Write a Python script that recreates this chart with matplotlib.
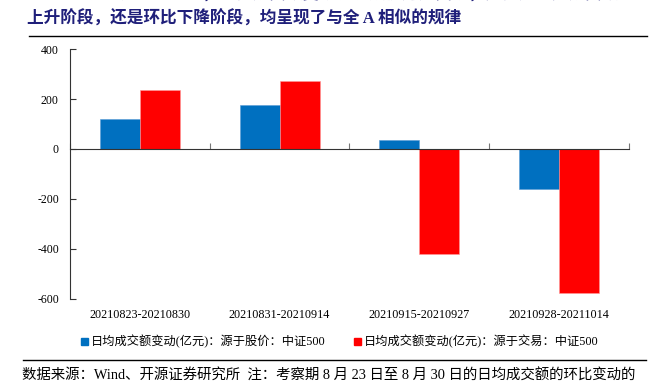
import matplotlib.pyplot as plt
import numpy as np
from matplotlib.patches import Patch
from matplotlib.lines import Line2D

periods = ["20210823-20210830", "20210831-20210914", "20210915-20210927", "20210928-20211014"]
price_driven = [120, 175, 37, -159]
trade_driven = [235, 271, -419, -576]
legend_labels = ["日均成交额变动(亿元)：源于股价：中证500", "日均成交额变动(亿元)：源于交易：中证500"]

fonts = ["Liberation Serif", "Noto Sans CJK SC", "DejaVu Sans"]
plt.rcParams["font.family"] = fonts
plt.rcParams["axes.unicode_minus"] = False

fig = plt.figure(figsize=(6.69, 3.88), dpi=100)
ax = fig.add_axes([0.1046, 0.2294, 0.8355, 0.6443])

x = np.arange(len(periods))
w = 0.2857
ax.bar(x - w / 2, price_driven, w, color="#0070C0", edgecolor="#5B9BD5", linewidth=0.4)
ax.bar(x + w / 2, trade_driven, w, color="#FF0000", edgecolor="#FF9999", linewidth=0.4)

ax.set_xlim(-0.5, len(periods) - 0.5)
ax.set_ylim(-600, 400)
ax.set_yticks(range(-600, 401, 200))
ax.tick_params(axis="y", direction="in", length=4, labelsize=8.5, pad=8, color="#333333")
for s in ["top", "right"]:
    ax.spines[s].set_visible(False)
ax.spines["left"].set_color("#333333")
ax.spines["bottom"].set_position(("data", 0))
ax.spines["bottom"].set_color("#333333")
ax.set_xticks(np.arange(-0.5, len(periods), 1.0))
ax.set_xticklabels([])
ax.tick_params(axis="x", direction="in", length=4, color="#777777")
for i, p in enumerate(periods):
    ax.text(i, -0.064, p, transform=ax.get_xaxis_transform(), ha="center", va="center", fontsize=8.7)

handles = [Patch(color="#0070C0"), Patch(color="#FF0000")]
fig.legend(handles, legend_labels, loc="center", bbox_to_anchor=(0.508, 0.119), ncol=2,
           frameon=False, fontsize=8.8, handlelength=0.55, handleheight=0.55, handletextpad=0.3,
           columnspacing=2.3)

# title (first line cut off at the top in the source)
fig.text(0.036, 1.012, "图 7：对于中证 500 而言，不论成交额变动源于股价还是交易，无论是环比成交额",
         fontsize=12, fontweight="bold", color="#1F1F7A", va="center")
fig.text(0.04, 0.951, "上升阶段，还是环比下降阶段，均呈现了与全 A 相似的规律",
         fontsize=12, fontweight="bold", color="#1F1F7A", va="center")
fig.add_artist(Line2D([0.043, 0.967], [0.907, 0.907], color="black", lw=1.0))
fig.add_artist(Line2D([0.035, 0.965], [0.072, 0.072], color="black", lw=1.0))
fig.text(0.033, 0.031, "数据来源：Wind、开源证券研究所  注：考察期 8 月 23 日至 8 月 30 日的日均成交额的环比变动的",
         fontsize=10.4, va="center")

fig.savefig("out.png", dpi=100)
